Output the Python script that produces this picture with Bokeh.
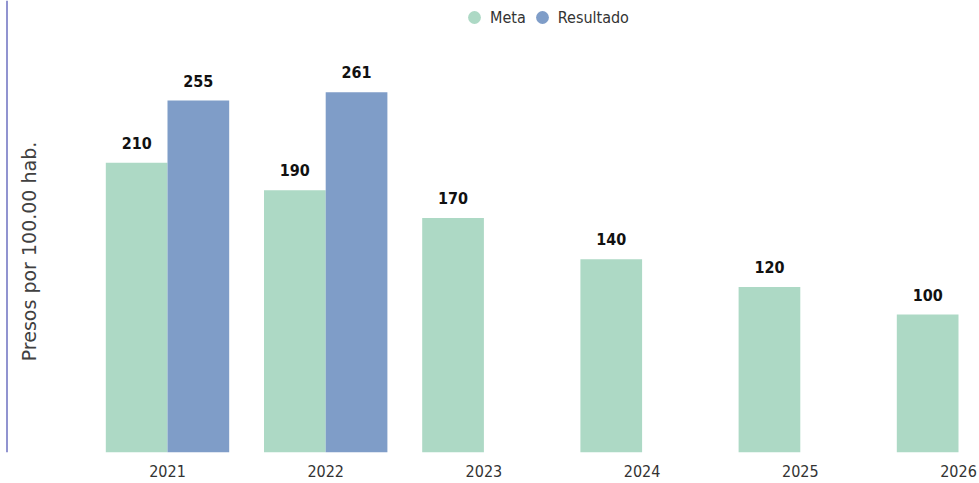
import math
from bokeh.plotting import figure
from bokeh.models import Range1d, Label, Legend, LegendItem, Span, ColumnDataSource, FixedTicker
from bokeh.core.properties import value
from bokeh.embed import file_html
from bokeh.resources import INLINE

# ---- data ----
years = ["2021", "2022", "2023", "2024", "2025", "2026"]
meta = [210, 190, 170, 140, 120, 100]
resultado_years = ["2021", "2022"]
resultado = [255, 261]
y_title = "Presos por 100.00 hab."

# ---- layout constants ----
W, H = 979, 483
AXIS_H = 31
group_px = 158.2
first_center_px = 167.0
x_start = -first_center_px / group_px
x_end = (W - first_center_px) / group_px
y_end = (H - AXIS_H) / 1.38
dodge = 0.195
bar_w = 0.39

GREEN = "#add9c5"
BLUE = "#7f9dc8"
NARROW = "Liberation Sans Narrow, DejaVu Sans Condensed, sans-serif"

pos = {y: i for i, y in enumerate(years)}

meta_src = ColumnDataSource(dict(
    x=[pos[y] - dodge for y in years], top=meta, label=[str(v) for v in meta]))
res_src = ColumnDataSource(dict(
    x=[pos[y] + dodge for y in resultado_years], top=resultado,
    label=[str(v) for v in resultado]))

p = figure(width=W, height=H, x_range=Range1d(x_start, x_end), y_range=Range1d(0, y_end),
           output_backend="svg", toolbar_location=None, min_border=0,
           min_border_bottom=AXIS_H,
           outline_line_color=None, background_fill_color="white", border_fill_color="white")

p.vbar(x="x", top="top", width=bar_w, source=meta_src, fill_color=GREEN, line_color=None)
p.vbar(x="x", top="top", width=bar_w, source=res_src, fill_color=BLUE, line_color=None)

for src in (meta_src, res_src):
    p.text(x="x", y="top", text="label", source=src, text_align="center",
           text_baseline="alphabetic", y_offset=-20, text_font=value(NARROW),
           text_font_style="bold", text_font_size="16px", text_color="#111111")

# legend proxies (not drawn in the plot area)
lm = p.scatter(x=[float("nan")], y=[float("nan")], marker="circle", size=13,
               fill_color=GREEN, line_color=None)
lr = p.scatter(x=[float("nan")], y=[float("nan")], marker="circle", size=13,
               fill_color=BLUE, line_color=None)
legend = Legend(items=[LegendItem(label="Meta", renderers=[lm]),
                       LegendItem(label="Resultado", renderers=[lr])],
                orientation="horizontal", location=(458, 419),
                glyph_width=32, glyph_height=32, label_standoff=0, spacing=0,
                padding=0, margin=0, border_line_color=None, background_fill_alpha=0,
                label_text_font=NARROW, label_text_font_size="16px",
                label_text_color="#333333", label_text_baseline="middle")
p.add_layout(legend)

p.xaxis.ticker = FixedTicker(ticks=list(range(len(years))))
p.xaxis.major_label_overrides = {i: y for i, y in enumerate(years)}
p.xaxis.axis_line_color = None
p.xaxis.major_tick_line_color = None
p.xaxis.minor_tick_line_color = None
p.xaxis.major_label_standoff = 6
p.xaxis.major_label_text_font = NARROW
p.xaxis.major_label_text_font_size = "16px"
p.xaxis.major_label_text_color = "#333333"
p.yaxis.visible = False
p.xgrid.grid_line_color = None
p.ygrid.grid_line_color = None

p.add_layout(Label(x=28, y=201, x_units="screen", y_units="screen", text=y_title,
                   angle=math.pi / 2, text_align="center", text_baseline="middle",
                   text_font="DejaVu Sans", text_font_size="19px", text_color="#404040"))

p.add_layout(Span(location=x_start + 6.5 / group_px, dimension="height",
                  line_color="#6d70c0", line_width=1.5))

open("out.html", "w").write(file_html(p, INLINE))
